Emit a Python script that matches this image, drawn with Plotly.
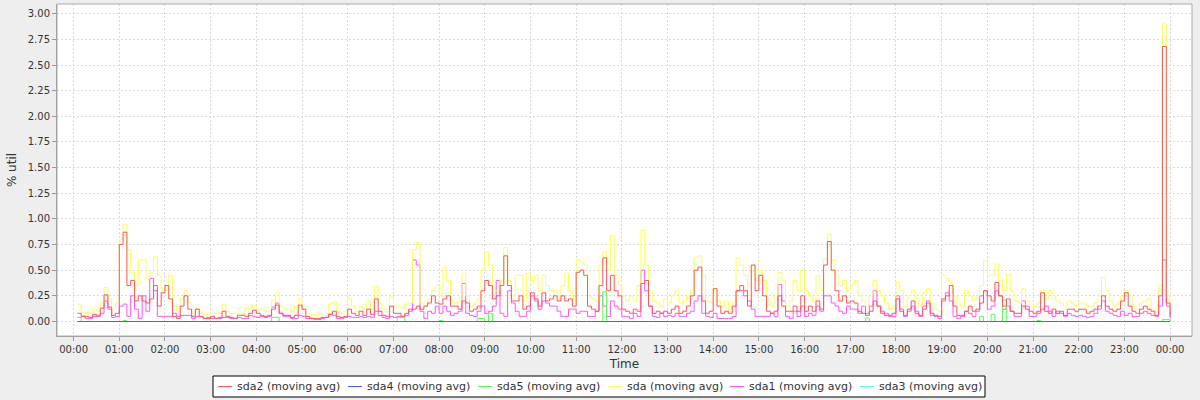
import pandas as pd
import plotly.graph_objects as go

# 5-minute samples, 00:05 .. 24:00 (12 per row = one hour)
times = pd.date_range("2024-01-01 00:05", periods=288, freq="5min")

sda = [
    0.17, 0.09, 0.09, 0.08, 0.12, 0.10, 0.18, 0.33, 0.22, 0.12, 0.18, 0.80,
    0.95, 0.70, 0.48, 0.35, 0.60, 0.60, 0.42, 0.48, 0.63, 0.45, 0.32, 0.30,
    0.45, 0.15, 0.10, 0.22, 0.30, 0.18, 0.08, 0.13, 0.08, 0.07, 0.07, 0.08,
    0.08, 0.08, 0.17, 0.10, 0.08, 0.08, 0.08, 0.07, 0.13, 0.13, 0.16, 0.12,
    0.12, 0.10, 0.10, 0.20, 0.28, 0.15, 0.13, 0.12, 0.10, 0.15, 0.22, 0.12,
    0.08, 0.07, 0.07, 0.07, 0.08, 0.08, 0.17, 0.19, 0.10, 0.08, 0.10, 0.22,
    0.15, 0.10, 0.15, 0.12, 0.20, 0.12, 0.34, 0.18, 0.12, 0.10, 0.24, 0.15,
    0.15, 0.13, 0.17, 0.18, 0.70, 0.77, 0.18, 0.15, 0.22, 0.30, 0.35, 0.25,
    0.52, 0.40, 0.20, 0.18, 0.20, 0.47, 0.25, 0.15, 0.18, 0.22, 0.50, 0.68,
    0.55, 0.30, 0.30, 0.40, 0.72, 0.40, 0.25, 0.45, 0.45, 0.20, 0.47, 0.40,
    0.45, 0.30, 0.45, 0.35, 0.30, 0.30, 0.25, 0.35, 0.47, 0.30, 0.22, 0.60,
    0.58, 0.55, 0.25, 0.22, 0.20, 0.55, 0.68, 0.50, 0.84, 0.45, 0.35, 0.25,
    0.20, 0.25, 0.20, 0.35, 0.89, 0.55, 0.30, 0.20, 0.18, 0.15, 0.22, 0.18,
    0.25, 0.30, 0.18, 0.20, 0.25, 0.30, 0.62, 0.64, 0.45, 0.20, 0.18, 0.30,
    0.20, 0.15, 0.20, 0.10, 0.18, 0.62, 0.55, 0.45, 0.25, 0.55, 0.40, 0.50,
    0.40, 0.20, 0.15, 0.25, 0.48, 0.40, 0.15, 0.20, 0.40, 0.30, 0.50, 0.30,
    0.25, 0.20, 0.45, 0.30, 0.61, 0.85, 0.60, 0.45, 0.35, 0.40, 0.30, 0.35,
    0.40, 0.25, 0.20, 0.15, 0.25, 0.40, 0.30, 0.25, 0.18, 0.12, 0.15, 0.38,
    0.30, 0.15, 0.25, 0.30, 0.22, 0.15, 0.28, 0.32, 0.18, 0.12, 0.10, 0.45,
    0.42, 0.38, 0.25, 0.18, 0.15, 0.30, 0.25, 0.20, 0.25, 0.35, 0.59, 0.45,
    0.45, 0.56, 0.40, 0.30, 0.46, 0.30, 0.20, 0.18, 0.32, 0.20, 0.15, 0.15,
    0.18, 0.30, 0.22, 0.30, 0.25, 0.20, 0.18, 0.15, 0.20, 0.18, 0.15, 0.18,
    0.18, 0.15, 0.15, 0.18, 0.25, 0.43, 0.30, 0.20, 0.15, 0.18, 0.25, 0.30,
    0.25, 0.15, 0.12, 0.18, 0.20, 0.22, 0.12, 0.10, 0.35, 2.90, 0.25, 0.10,
]

sda2 = [
    0.08, 0.05, 0.05, 0.04, 0.07, 0.06, 0.13, 0.26, 0.14, 0.06, 0.08, 0.75,
    0.87, 0.35, 0.40, 0.20, 0.25, 0.20, 0.18, 0.22, 0.35, 0.15, 0.28, 0.35,
    0.22, 0.05, 0.03, 0.15, 0.25, 0.12, 0.05, 0.12, 0.05, 0.03, 0.03, 0.05,
    0.03, 0.04, 0.10, 0.05, 0.04, 0.03, 0.06, 0.06, 0.05, 0.08, 0.11, 0.08,
    0.06, 0.05, 0.06, 0.12, 0.16, 0.08, 0.06, 0.06, 0.04, 0.06, 0.16, 0.12,
    0.05, 0.03, 0.03, 0.03, 0.04, 0.04, 0.07, 0.10, 0.05, 0.04, 0.05, 0.12,
    0.08, 0.06, 0.10, 0.06, 0.12, 0.07, 0.22, 0.10, 0.06, 0.05, 0.15, 0.08,
    0.08, 0.05, 0.08, 0.12, 0.12, 0.15, 0.12, 0.15, 0.18, 0.25, 0.18, 0.17,
    0.22, 0.25, 0.15, 0.15, 0.12, 0.20, 0.18, 0.10, 0.12, 0.15, 0.30, 0.40,
    0.35, 0.22, 0.25, 0.35, 0.64, 0.35, 0.20, 0.20, 0.25, 0.12, 0.15, 0.28,
    0.22, 0.15, 0.28, 0.20, 0.22, 0.25, 0.20, 0.25, 0.20, 0.22, 0.15, 0.48,
    0.50, 0.45, 0.15, 0.12, 0.10, 0.35, 0.62, 0.30, 0.45, 0.30, 0.25, 0.12,
    0.10, 0.08, 0.12, 0.10, 0.37, 0.40, 0.15, 0.08, 0.10, 0.08, 0.10, 0.08,
    0.12, 0.15, 0.08, 0.10, 0.15, 0.25, 0.50, 0.53, 0.20, 0.08, 0.10, 0.32,
    0.15, 0.08, 0.10, 0.08, 0.15, 0.30, 0.35, 0.30, 0.15, 0.55, 0.30, 0.45,
    0.25, 0.10, 0.08, 0.10, 0.25, 0.15, 0.10, 0.10, 0.15, 0.10, 0.25, 0.10,
    0.15, 0.10, 0.20, 0.12, 0.55, 0.78, 0.50, 0.30, 0.20, 0.25, 0.18, 0.20,
    0.18, 0.10, 0.08, 0.06, 0.10, 0.20, 0.15, 0.08, 0.06, 0.06, 0.08, 0.22,
    0.10, 0.06, 0.12, 0.20, 0.08, 0.06, 0.12, 0.18, 0.08, 0.06, 0.05, 0.22,
    0.25, 0.35, 0.15, 0.06, 0.06, 0.10, 0.15, 0.10, 0.12, 0.18, 0.30, 0.25,
    0.20, 0.38, 0.25, 0.15, 0.22, 0.10, 0.08, 0.08, 0.15, 0.12, 0.10, 0.08,
    0.10, 0.28, 0.10, 0.08, 0.12, 0.08, 0.10, 0.06, 0.12, 0.12, 0.10, 0.12,
    0.12, 0.08, 0.10, 0.12, 0.15, 0.25, 0.15, 0.12, 0.10, 0.12, 0.20, 0.28,
    0.15, 0.10, 0.08, 0.12, 0.15, 0.12, 0.10, 0.06, 0.25, 2.68, 0.18, 0.05,
]

sda1 = [
    0.04, 0.05, 0.03, 0.03, 0.05, 0.05, 0.08, 0.20, 0.12, 0.04, 0.05, 0.15,
    0.17, 0.05, 0.25, 0.12, 0.03, 0.25, 0.10, 0.42, 0.30, 0.05, 0.05, 0.05,
    0.05, 0.08, 0.05, 0.06, 0.06, 0.06, 0.03, 0.05, 0.05, 0.03, 0.04, 0.03,
    0.03, 0.03, 0.04, 0.04, 0.03, 0.03, 0.04, 0.03, 0.03, 0.06, 0.05, 0.04,
    0.05, 0.04, 0.05, 0.14, 0.18, 0.08, 0.05, 0.05, 0.03, 0.03, 0.06, 0.05,
    0.03, 0.03, 0.02, 0.02, 0.03, 0.04, 0.07, 0.06, 0.03, 0.03, 0.04, 0.05,
    0.04, 0.04, 0.05, 0.04, 0.05, 0.04, 0.10, 0.06, 0.04, 0.03, 0.05, 0.04,
    0.05, 0.04, 0.06, 0.10, 0.60, 0.55, 0.10, 0.03, 0.10, 0.08, 0.15, 0.08,
    0.15, 0.10, 0.06, 0.08, 0.10, 0.37, 0.08, 0.06, 0.05, 0.10, 0.15, 0.08,
    0.10, 0.15, 0.40, 0.08, 0.05, 0.30, 0.18, 0.10, 0.05, 0.05, 0.10, 0.25,
    0.20, 0.12, 0.20, 0.18, 0.15, 0.15, 0.10, 0.05, 0.05, 0.12, 0.12, 0.08,
    0.10, 0.10, 0.05, 0.05, 0.10, 0.25, 0.15, 0.05, 0.20, 0.15, 0.12, 0.05,
    0.05, 0.03, 0.08, 0.05, 0.50, 0.30, 0.15, 0.05, 0.04, 0.08, 0.05, 0.06,
    0.05, 0.08, 0.05, 0.05, 0.08, 0.10, 0.20, 0.25, 0.08, 0.05, 0.04, 0.08,
    0.03, 0.03, 0.03, 0.03, 0.05, 0.30, 0.30, 0.25, 0.20, 0.12, 0.05, 0.05,
    0.05, 0.05, 0.08, 0.05, 0.36, 0.20, 0.05, 0.03, 0.10, 0.05, 0.15, 0.05,
    0.08, 0.06, 0.15, 0.10, 0.25, 0.25, 0.18, 0.15, 0.10, 0.08, 0.15, 0.12,
    0.12, 0.08, 0.15, 0.08, 0.15, 0.30, 0.15, 0.10, 0.08, 0.05, 0.05, 0.25,
    0.12, 0.05, 0.10, 0.15, 0.10, 0.05, 0.15, 0.20, 0.06, 0.05, 0.03, 0.20,
    0.28, 0.20, 0.05, 0.03, 0.05, 0.10, 0.08, 0.05, 0.10, 0.25, 0.30, 0.12,
    0.15, 0.30, 0.25, 0.12, 0.15, 0.10, 0.05, 0.05, 0.20, 0.15, 0.05, 0.05,
    0.08, 0.12, 0.15, 0.10, 0.05, 0.10, 0.08, 0.05, 0.08, 0.06, 0.05, 0.06,
    0.05, 0.04, 0.05, 0.08, 0.12, 0.20, 0.10, 0.08, 0.06, 0.05, 0.10, 0.06,
    0.08, 0.05, 0.05, 0.08, 0.10, 0.08, 0.06, 0.05, 0.15, 0.60, 0.15, 0.03,
]

sda5 = [
    0.04, 0, 0, 0, 0, 0, 0, 0, 0, 0, 0, 0,
    0.01, 0, 0, 0, 0, 0, 0, 0, 0, 0, 0, 0,
    0, 0, 0, 0, 0, 0, 0, 0, 0, 0, 0, 0,
    0, 0, 0, 0, 0, 0, 0, 0, 0, 0, 0, 0,
    0, 0, 0, 0.04, 0.04, 0, 0, 0, 0, 0, 0, 0,
    0, 0, 0, 0, 0, 0, 0, 0, 0, 0, 0, 0,
    0, 0, 0, 0, 0, 0, 0, 0, 0, 0, 0, 0,
    0.04, 0.04, 0, 0, 0, 0, 0, 0, 0, 0, 0, 0.01,
    0, 0, 0, 0, 0, 0, 0, 0, 0, 0.03, 0.03, 0,
    0.08, 0, 0, 0, 0, 0, 0, 0, 0, 0, 0, 0,
    0, 0, 0, 0, 0, 0, 0, 0, 0, 0, 0, 0,
    0, 0, 0, 0, 0, 0, 0.29, 0, 0, 0, 0, 0,
    0, 0, 0, 0, 0, 0, 0, 0, 0, 0, 0, 0,
    0, 0, 0, 0, 0, 0, 0, 0, 0, 0, 0, 0,
    0, 0, 0, 0, 0, 0, 0, 0, 0, 0, 0, 0,
    0, 0, 0, 0, 0, 0, 0, 0, 0, 0, 0, 0,
    0, 0, 0, 0, 0, 0, 0, 0, 0, 0, 0, 0,
    0, 0, 0, 0.035, 0, 0, 0, 0, 0, 0, 0, 0,
    0, 0, 0, 0, 0, 0, 0, 0, 0, 0, 0, 0,
    0, 0, 0, 0, 0, 0, 0, 0, 0, 0.05, 0, 0,
    0.07, 0, 0, 0.21, 0, 0, 0, 0, 0, 0, 0, 0,
    0.01, 0, 0, 0, 0, 0, 0, 0, 0, 0, 0, 0,
    0, 0, 0, 0, 0, 0, 0, 0, 0, 0, 0, 0,
    0, 0, 0, 0, 0, 0, 0, 0, 0, 0.02, 0.02, 0,
]

sda4 = [0.0] * 288
sda3 = [0.0] * 288

series_names = ["sda2 (moving avg)", "sda4 (moving avg)", "sda5 (moving avg)",
                "sda (moving avg)", "sda1 (moving avg)", "sda3 (moving avg)"]
series_values = [sda2, sda4, sda5, sda, sda1, sda3]
series_colors = ["#FF5555", "#5555FF", "#55FF55", "#FFFF55", "#FF55FF", "#55FFFF"]

fig = go.Figure()
# draw in reverse order (last series underneath)
for k in reversed(range(len(series_names))):
    fig.add_trace(go.Scatter(
        x=times, y=series_values[k], name=series_names[k],
        mode="lines", line=dict(color=series_colors[k], width=1, shape="hv"),
        showlegend=False,
    ))

# ---- layout geometry (pixels) ----
W, H = 1200, 400
L, R, T, B = 57, 8, 4, 64
pw, ph = W - L - R, H - T - B


def px(x):
    return (x - L) / pw


def py(y):
    return (H - B - y) / ph


font = "DejaVu Sans, Arial, sans-serif"

# ---- custom legend (JFreeChart style) ----
shapes = [
    dict(type="rect", xref="paper", yref="paper", x0=0, y0=0, x1=1, y1=1,
         line=dict(color="#AAAAAA", width=1), layer="above"),
    dict(type="rect", xref="paper", yref="paper", x0=px(213), x1=px(985),
         y0=py(397), y1=py(376), line=dict(color="#000000", width=1),
         fillcolor="#FFFFFF", layer="above"),
]
annotations = []
legend_x = [218, 348, 478, 608, 730, 860]
ly = 386.5
for k, name in enumerate(series_names):
    x0 = legend_x[k]
    shapes.append(dict(type="line", xref="paper", yref="paper",
                       x0=px(x0), x1=px(x0 + 14), y0=py(ly), y1=py(ly),
                       line=dict(color=series_colors[k], width=1), layer="above"))
    annotations.append(dict(text=name, xref="paper", yref="paper",
                            x=px(x0 + 17), y=py(ly), xanchor="left", yanchor="middle",
                            showarrow=False,
                            font=dict(family=font, size=11, color="#333333")))

fig.update_layout(
    width=W, height=H,
    paper_bgcolor="#EEEEEE", plot_bgcolor="#FFFFFF",
    margin=dict(l=L, r=R, t=T, b=B),
    font=dict(family=font, size=11, color="#444444"),
    showlegend=False,
    xaxis=dict(
        type="date", automargin=False,
        range=["2023-12-31 23:38:12", "2024-01-02 00:28:48"],
        tickmode="linear", tick0="2024-01-01 00:00", dtick=3600000,
        tickformat="%H:%M",
        showgrid=True, gridcolor="#DADADA", griddash="2px,2px", gridwidth=1,
        showline=True, linecolor="#999999", linewidth=1,
        ticks="outside", ticklen=4, tickcolor="#999999",
        tickfont=dict(size=10, color="#333333"),
        title=dict(text="Time", font=dict(size=12, color="#333333"), standoff=5),
        zeroline=False,
    ),
    yaxis=dict(
        automargin=False,
        range=[-0.1413, 3.0946],
        tickmode="linear", tick0=0, dtick=0.25, tickformat=".2f",
        showgrid=True, gridcolor="#DADADA", griddash="2px,2px", gridwidth=1,
        showline=True, linecolor="#999999", linewidth=1,
        ticks="outside", ticklen=4, tickcolor="#999999",
        tickfont=dict(size=10, color="#333333"),
        title=dict(text="% util", font=dict(size=12, color="#333333"), standoff=8),
        zeroline=False,
    ),
    shapes=shapes,
    annotations=annotations,
)

fig.write_html(
    "out.html",
    config={"displayModeBar": False},
    post_script="document.body.style.margin='0';document.body.style.background='#EEEEEE';",
)
